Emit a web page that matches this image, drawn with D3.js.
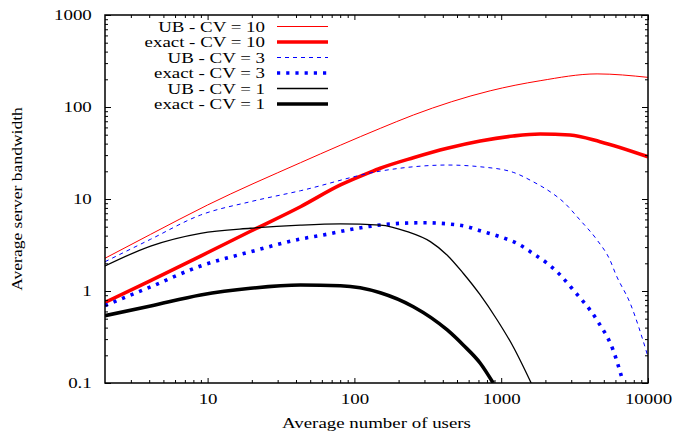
<!DOCTYPE html>
<html>
<head>
<meta charset="utf-8">
<script src="https://cdn.jsdelivr.net/npm/d3@7"></script>
<style>
body { margin: 0; background: #fff; }
text { font-family: "Liberation Serif", "Times New Roman", serif; font-size: 15px; fill: #000; }
</style>
</head>
<body>
<div id="vis"></div>
<script>
// values (users, bandwidth)
var usersUB10 = [2, 4.09, 10, 42.9, 150, 252, 841, 1841, 4500, 10000];
var bwUB10    = [2.27, 4.13, 8.61, 24.8, 58.6, 81.8, 150, 193, 229, 210];

var usersEx10 = [2, 4.09, 8.96, 19.6, 42.9, 80.3, 128.5, 150, 252, 429, 720, 1207, 1841, 2944, 4710, 10000];
var bwEx10    = [0.75, 1.30, 2.40, 4.46, 8.24, 14.2, 19.6, 21.6, 28.1, 35.6, 42.7, 48.4, 50.9, 49.6, 42.0, 28.8];

var usersUB3 = [2, 4.09, 8.96, 19.6, 42.9, 150, 252, 429, 720, 1207, 1651, 2153, 2642, 3443, 4500, 5508, 6053, 7550, 10000];
var bwUB3    = [2.08, 3.65, 6.70, 9.35, 12.3, 20.1, 22.4, 23.4, 22.4, 19.5, 15.4, 12.0, 9.35, 5.91, 3.58, 2.17, 1.5, 0.74, 0.193];

var usersEx3 = [2, 4.09, 8.96, 19.6, 42.9, 61.5, 105, 176, 294, 440, 588, 720, 984, 1285, 1651, 2056, 2559, 3090, 4500, 5780, 6760];
var bwEx3    = [0.695, 1.11, 1.87, 2.67, 3.67, 4.07, 4.81, 5.35, 5.52, 5.35, 5.0, 4.52, 3.89, 3.29, 2.55, 2.00, 1.46, 1.03, 0.48, 0.229, 0.103];

var usersUB1 = [2, 4.09, 8.96, 19.6, 42.9, 80.3, 150, 229, 329, 429, 551, 720, 939, 1207, 1600];
var bwUB1    = [1.87, 3.08, 4.24, 4.81, 5.2, 5.36, 5.21, 4.42, 3.44, 2.45, 1.56, 0.906, 0.484, 0.248, 0.100];

var usersEx1 = [2, 4.09, 8.96, 19.6, 42.9, 80.3, 150, 252, 429, 551, 720, 882];
var bwEx1    = [0.54, 0.687, 0.905, 1.07, 1.16, 1.14, 0.958, 0.675, 0.377, 0.259, 0.164, 0.100];

var legendLabels = ["UB - CV = 10", "exact - CV = 10", "UB - CV = 3", "exact - CV = 3", "UB - CV = 1", "exact - CV = 1"];

var xTicks = [10, 100, 1000, 10000];
var yTicks = [0.1, 1, 10, 100, 1000];
var yTickLabels = ["0.1", "1", "10", "100", "1000"];

var series = [
    {users: usersUB10, bw: bwUB10, color: "#ff0000", width: 1, dash: null},
    {users: usersEx10, bw: bwEx10, color: "#ff0000", width: 3.6, dash: null},
    {users: usersUB3, bw: bwUB3, color: "#0000ff", width: 1, dash: "4,4"},
    {users: usersEx3, bw: bwEx3, color: "#0000ff", width: 3.6, dash: "3.2,6"},
    {users: usersUB1, bw: bwUB1, color: "#000000", width: 1.3, dash: null},
    {users: usersEx1, bw: bwEx1, color: "#000000", width: 3.6, dash: null}
];

var W = 675, H = 433;
var margin = {top: 15, right: 27, bottom: 50, left: 105};
/* the reference text is drawn a little wide */
var stretch = 1.26;

var svg = d3.select("#vis").append("svg")
    .attr("width", W)
    .attr("height", H);

var x = d3.scaleLog().domain([2, 10000]).range([margin.left, W - margin.right]);
var y = d3.scaleLog().domain([0.1, 1000]).range([H - margin.bottom, margin.top]);

/* minor ticks for a log axis */
function minors(lo, hi) {
    var out = [];
    for (var p = Math.floor(Math.log10(lo)); p < Math.ceil(Math.log10(hi)); p++)
        for (var k = 2; k < 10; k++) {
            var v = k * Math.pow(10, p);
            if (v > lo && v < hi) out.push(v);
        }
    return out;
}
var xMinor = minors(2, 10000);
var yMinor = minors(0.1, 1000);

svg.append("clipPath").attr("id", "clip")
    .append("rect")
    .attr("x", margin.left).attr("y", margin.top)
    .attr("width", W - margin.left - margin.right)
    .attr("height", H - margin.top - margin.bottom);

/* curves */
var line = d3.line()
    .x(function(d) { return x(d[0]); })
    .y(function(d) { return y(d[1]); })
    .curve(d3.curveMonotoneX);

svg.append("g").attr("clip-path", "url(#clip)")
    .selectAll("path")
    .data(series)
    .enter()
    .append("path")
    .attr("d", function(s) { return line(s.users.map(function(u, i) { return [u, s.bw[i]]; })); })
    .attr("fill", "none")
    .attr("stroke", function(s) { return s.color; })
    .attr("stroke-width", function(s) { return s.width; })
    .attr("stroke-dasharray", function(s) { return s.dash; });

/* axes, gnuplot style: ticks inside on all four sides */
function styleAxis(g) {
    g.select(".domain").remove();
    g.selectAll("line").attr("stroke", "#000").attr("stroke-width", 1);
    g.attr("font-family", null).attr("font-size", null);
}

var bottom = H - margin.bottom, right = W - margin.right;

svg.append("g").attr("transform", "translate(0," + bottom + ")")
    .call(d3.axisBottom(x).tickValues(xTicks).tickSize(-5).tickPadding(10).tickFormat(d3.format("d")))
    .call(styleAxis)
    .selectAll("text")
    .attr("transform", "scale(" + stretch + ",1)");

svg.append("g").attr("transform", "translate(0," + bottom + ")")
    .call(d3.axisBottom(x).tickValues(xMinor).tickSize(-3).tickFormat(""))
    .call(styleAxis);

svg.append("g").attr("transform", "translate(0," + margin.top + ")")
    .call(d3.axisTop(x).tickValues(xTicks).tickSize(-5).tickFormat(""))
    .call(styleAxis);

svg.append("g").attr("transform", "translate(0," + margin.top + ")")
    .call(d3.axisTop(x).tickValues(xMinor).tickSize(-3).tickFormat(""))
    .call(styleAxis);

svg.append("g").attr("transform", "translate(" + margin.left + ",0)")
    .call(d3.axisLeft(y).tickValues(yTicks).tickSize(-6).tickPadding(10.5)
        .tickFormat(function(d, i) { return yTickLabels[i]; }))
    .call(styleAxis)
    .selectAll("text")
    .attr("transform", "scale(" + stretch + ",1)");

svg.append("g").attr("transform", "translate(" + margin.left + ",0)")
    .call(d3.axisLeft(y).tickValues(yMinor).tickSize(-3).tickFormat(""))
    .call(styleAxis);

svg.append("g").attr("transform", "translate(" + right + ",0)")
    .call(d3.axisRight(y).tickValues(yTicks).tickSize(-6).tickFormat(""))
    .call(styleAxis);

svg.append("g").attr("transform", "translate(" + right + ",0)")
    .call(d3.axisRight(y).tickValues(yMinor).tickSize(-3).tickFormat(""))
    .call(styleAxis);

/* frame */
svg.append("rect")
    .attr("x", margin.left).attr("y", margin.top)
    .attr("width", right - margin.left)
    .attr("height", bottom - margin.top)
    .attr("fill", "none")
    .attr("stroke", "#000")
    .attr("stroke-width", 1.5);

/* axis titles */
svg.append("text")
    .attr("transform", "translate(" + ((margin.left + right) / 2) + "," + (H - 5) + ") scale(" + stretch + ",1)")
    .attr("text-anchor", "middle")
    .text("Average number of users");

svg.append("text")
    .attr("transform", "translate(17," + ((margin.top + bottom) / 2) + ") rotate(-90) scale(1.17,1)")
    .attr("text-anchor", "middle")
    .attr("dy", "0.35em")
    .text("Average server bandwidth");

/* legend */
var legend = svg.append("g")
    .selectAll("g")
    .data(series)
    .enter()
    .append("g")
    .attr("transform", function(d, i) { return "translate(0," + (26.5 + i * 15.5) + ")"; });

legend.append("text")
    .attr("transform", "translate(265,0) scale(" + stretch + ",1)")
    .attr("text-anchor", "end")
    .attr("dy", "0.35em")
    .text(function(d, i) { return legendLabels[i]; });

legend.append("line")
    .attr("x1", 277).attr("x2", 328)
    .attr("stroke", function(s) { return s.color; })
    .attr("stroke-width", function(s) { return s.width; })
    .attr("stroke-dasharray", function(s) { return s.dash; });
</script>
</body>
</html>
